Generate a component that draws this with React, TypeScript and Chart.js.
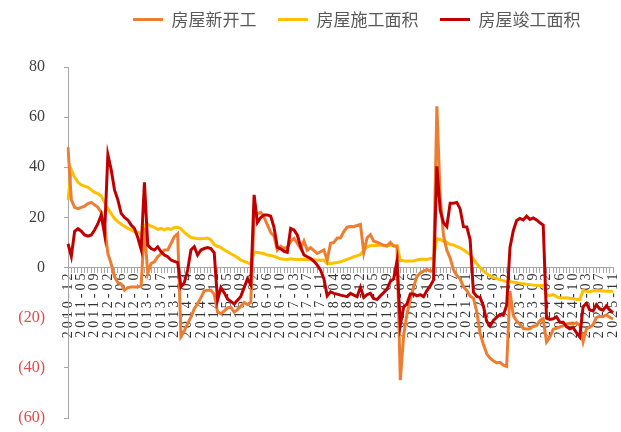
import React, { useEffect, useRef } from 'react';
import { Chart, registerables } from 'chart.js';

Chart.register(...registerables);

// ---- categories: Dec 2010, then Feb..Dec of each year (Jan-Feb reported together) up to 2025-11
const firstCategory = '2010-12';
const categoryYears = [2011, 2012, 2013, 2014, 2015, 2016, 2017, 2018, 2019, 2020, 2021, 2022, 2023, 2024, 2025];
const categoryMonths = ['02', '03', '04', '05', '06', '07', '08', '09', '10', '11', '12'];
const lastCategory = '2025-11';
const categories: string[] = [firstCategory];
for (const y of categoryYears) {
  for (const m of categoryMonths) {
    if (categories[categories.length - 1] === lastCategory) break;
    categories.push(`${y}-${m}`);
  }
}

const seriesNames = ['房屋新开工', '房屋施工面积', '房屋竣工面积'];

// 房屋新开工 (cumulative YoY, %)
const newStarts = [
  48,
  27, 24, 23.5, 24, 24.5, 25.5, 26, 25, 24, 22, 17,
  5.5, 1.5, -3.7, -6, -6.5, -9, -8, -7.7, -7.7, -7.7, -7.3,
  16, -2.4, 1.6, 2.3, 4.3, 5.5, 7, 7, 9.6, 12.3, 13.5,
  -27.5, -25.2, -22.3, -19.8, -16.4, -14.4, -12.0, -9.3, -9.0, -9.0, -10.7,
  -17.7, -18.4, -17.4, -16.1, -15.8, -17.8, -16.8, -15.4, -13.9, -14.7, -14.0,
  20, 21.5, 22, 20, 17, 14, 12.5, 7, 8.5, 7.6, 8.1,
  10.4, 11.6, 9.7, 7.6, 10.6, 6.9, 7.9, 6.8, 5.6, 6.3, 7.0,
  2.9, 9.7, 10.0, 11.8, 11.8, 14.4, 16.1, 16.4, 16.3, 16.8, 17.2,
  6.0, 11.9, 13.1, 10.5, 10.1, 9.5, 8.9, 8.6, 10.0, 8.6, 8.5,
  -44.9, -27.2, -18.4, -12.8, -7.6, -3.6, -2.1, -1.4, -0.7, -1.4, -1.2,
  64.3, 28.2, 12.8, 6.9, 3.8, -0.9, -3.2, -4.5, -7.7, -9.1, -11.4,
  -12.2, -17.5, -26.3, -30.6, -34.4, -36.1, -37.2, -38.0, -37.8, -38.9, -39.4,
  -9.4, -19.2, -21.2, -22.6, -24.3, -24.5, -24.4, -23.4, -23.2, -21.2, -20.4,
  -29.7, -27.8, -24.6, -24.2, -23.7, -23.2, -22.5, -22.2, -22.6, -22.0, -23.0,
  -29.6, -24.4, -23.8, -22.8, -20.0, -19.4, -19.5, -18.9, -19.8, -20.5,
];

// 房屋施工面积 (cumulative YoY, %)
const underConstruction = [
  27,
  39, 36, 34, 33, 32.5, 32, 31, 30, 29.5, 28.5, 26,
  23.5, 21.5, 19.5, 18.3, 17.3, 16.5, 15.6, 15, 14.4, 14, 13.4,
  17, 17.3, 16.5, 16, 15.2, 15.6, 15, 15.6, 15.2, 16, 16.1,
  15.5, 14, 13, 12, 11.8, 11.5, 11.5, 11.6, 11.8, 11, 9.2,
  8.5, 8, 7, 6.3, 5.5, 4.8, 4, 3, 2.5, 2, 1.3,
  6.2, 6, 5.8, 5.5, 5, 4.8, 4.5, 4, 3.5, 3.3, 3.2,
  3.5, 3.3, 3.2, 3.2, 3.3, 3.2, 3.2, 3.1, 3.0, 2.9, 3.0,
  1.5, 1.6, 1.8, 2.0, 2.3, 2.8, 3.3, 3.8, 4.3, 4.7, 5.2,
  6.8, 8.2, 8.8, 8.8, 8.8, 9.0, 8.8, 8.7, 9.0, 8.7, 8.7,
  2.9, 2.7, 2.5, 2.6, 2.6, 3.0, 3.3, 3.3, 3.2, 3.6, 3.7,
  11.5, 11.2, 10.5, 10.1, 9.2, 9.0, 8.4, 7.9, 7.1, 6.1, 5.2,
  3.5, 1.5, 0, -1.3, -2.5, -3.3, -4.0, -4.4, -4.8, -5.2, -5.6,
  -5.6, -5.8, -6.0, -6.2, -6.5, -6.6, -6.8, -7.0, -7.1, -7.2, -7.2,
  -11.0, -11.1, -10.8, -11.6, -12.0, -12.1, -12.0, -12.2, -12.4, -12.7, -12.7,
  -9.1, -9.5, -9.7, -9.2, -9.1, -9.2, -9.3, -9.4, -9.4, -9.6,
];

// 房屋竣工面积 (cumulative YoY, %)
const completions = [
  9.5,
  4.5, 14.5, 15.5, 14.5, 13, 12.5, 13, 15, 17.5, 21, 13.3,
  45, 39, 31, 27, 21.6, 20, 19, 17, 15.6, 12, 7.3,
  34, 9, 7.6, 7, 8.3, 6.3, 5, 4.3, 3, 2.5, 2.0,
  -7.7, -6, -1, 7, 8.3, 5, 7, 7.6, 8, 7.6, 5.9,
  -13, -8, -10, -12.5, -13.5, -14.5, -13, -11.5, -8, -4.5, -6.9,
  29, 18, 20, 21, 21, 20.5, 16, 8, 7.5, 6.5, 6.1,
  15.6, 15, 13, 8.3, 5, 4.3, 3.6, 2.5, 1, -1, -4.4,
  -11.3, -9.7, -10.3, -10.6, -11, -11.3, -11.6, -10.3, -11, -11.6, -7.8,
  -11.9, -10.8, -10.3, -12.4, -12.7, -11.3, -10.0, -8.6, -5.5, -4.5, 2.6,
  -22.9, -15.8, -14.5, -10.5, -10.5, -11.3, -10.8, -11.6, -9.2, -7.3, -4.9,
  40.4, 22.9, 17.9, 16.4, 25.7, 25.7, 26.0, 23.4, 16.3, 16.2, 11.2,
  -9.8, -11.5, -11.9, -15.3, -21.5, -23.3, -21.1, -19.9, -18.7, -19.0, -15.0,
  8.0, 14.7, 18.8, 19.6, 19.0, 20.5, 19.2, 19.8, 19.0, 17.9, 17.0,
  -20.2, -20.7, -20.4, -19.6, -21.8, -21.8, -23.6, -24.4, -23.9, -26.0, -27.7,
  -15.6, -14.3, -16.9, -17.3, -14.8, -16.5, -17.0, -15.3, -16.9, -18.0,
];

const yTicks = { min: -60, max: 80, step: 20 };
const labelEvery = 4;

const COLORS = ['#ED7D31', '#FFC000', '#C00000'];
const SERIF = "'Liberation Serif', 'Times New Roman', serif";
const CJK = "'Noto Sans CJK SC', 'Noto Sans', sans-serif";

const LEGEND_EXTRA_HEIGHT = 18.5;
const LEGEND_DX = 111.5;
const LEGEND_DY = -10.5;
const X_LABEL_SPACING = '3px';

const layoutTweak = {
  id: 'layoutTweak',
  beforeLayout(chart: any) {
    const lg = chart.legend;
    if (lg && !lg.__tweaked) {
      lg.__tweaked = true;
      const fit = lg.fit;
      lg.fit = function () {
        fit.call(this);
        this.height += LEGEND_EXTRA_HEIGHT;
      };
      const draw = lg._draw;
      lg._draw = function () {
        this.left += LEGEND_DX;
        this.right += LEGEND_DX;
        this.top += LEGEND_DY;
        this.bottom += LEGEND_DY;
        try {
          draw.call(this);
        } finally {
          this.left -= LEGEND_DX;
          this.right -= LEGEND_DX;
          this.top -= LEGEND_DY;
          this.bottom -= LEGEND_DY;
        }
      };
    }
  },
  afterLayout(chart: any) {
    const xs = chart.scales.x;
    if (xs && !xs.__tweaked) {
      xs.__tweaked = true;
      const drawLabels = xs.drawLabels;
      xs.drawLabels = function (area: any) {
        const ctx = this.ctx;
        const prev = ctx.letterSpacing;
        ctx.letterSpacing = X_LABEL_SPACING;
        try {
          drawLabels.call(this, area);
        } finally {
          ctx.letterSpacing = prev || '0px';
        }
      };
    }
  },
};

export default function App() {
  const ref = useRef<HTMLCanvasElement | null>(null);

  useEffect(() => {
    if (!ref.current) return;
    const seriesData = [newStarts, underConstruction, completions];
    const chart = new Chart(ref.current, {
      type: 'line',
      data: {
        labels: categories,
        datasets: seriesNames.map((name, i) => ({
          label: name,
          data: seriesData[i],
          borderColor: COLORS[i],
          backgroundColor: COLORS[i],
          borderWidth: 3,
          pointRadius: 0,
          tension: 0,
          fill: false,
          order: [1, 2, 0][i],
        })),
      },
      options: {
        responsive: false,
        maintainAspectRatio: false,
        devicePixelRatio: 1,
        animation: false,
        events: [],
        layout: { padding: { left: 0, right: 8, top: 0, bottom: 14 } },
        plugins: {
          tooltip: { enabled: false },
          legend: {
            position: 'top',
            align: 'start',
            labels: {
              boxWidth: 30,
              boxHeight: 3,
              padding: 21.5,
              color: '#595959',
              font: { family: CJK, size: 17 },
              sort: (a: any, b: any) => a.datasetIndex - b.datasetIndex,
              generateLabels: (c: any) =>
                Chart.defaults.plugins.legend.labels
                  .generateLabels(c)
                  .map((l: any) => ({ ...l, lineWidth: 0, fillStyle: l.strokeStyle })),
            },
          },
        },
        scales: {
          x: {
            type: 'category',
            position: { y: 0 } as any,
            offset: false,
            afterFit: (s: any) => {
              s.paddingLeft = 0;
              s.paddingRight = 0;
              s.paddingTop = 0;
              s.paddingBottom = 0;
            },
            grid: { drawOnChartArea: false, drawTicks: true, tickLength: 5, color: '#A6A6A6' },
            border: { color: '#A6A6A6', width: 1 },
            ticks: {
              autoSkip: false,
              minRotation: 90,
              maxRotation: 90,
              padding: -2,
              color: '#333333',
              font: { family: SERIF, size: 14 },
              callback: function (this: any, value: any, index: number) {
                return index % labelEvery === 0 ? this.getLabelForValue(value) : '';
              },
            },
          },
          y: {
            type: 'linear',
            min: yTicks.min,
            max: yTicks.max,
            afterFit: (s: any) => {
              s.width = 68;
              s.paddingTop = 0;
              s.paddingBottom = 0;
            },
            grid: { drawOnChartArea: false, drawTicks: true, tickLength: 4, color: '#A6A6A6' },
            border: { color: '#A6A6A6', width: 1 },
            ticks: {
              stepSize: yTicks.step,
              padding: 19,
              font: { family: SERIF, size: 16 },
              color: (ctx: any) => (ctx.tick && ctx.tick.value < 0 ? '#E04B4B' : '#404040'),
              callback: (v: any) => (Number(v) < 0 ? `(${-Number(v)})` : `${v}`),
            },
          },
        },
      },
      plugins: [layoutTweak],
    } as any);
    return () => chart.destroy();
  }, []);

  return (
    <div style={{ position: 'fixed', left: 0, top: 0, width: 621, height: 432, background: '#ffffff' }}>
      <canvas ref={ref} width={621} height={432} style={{ display: 'block', width: 621, height: 432 }} />
    </div>
  );
}
